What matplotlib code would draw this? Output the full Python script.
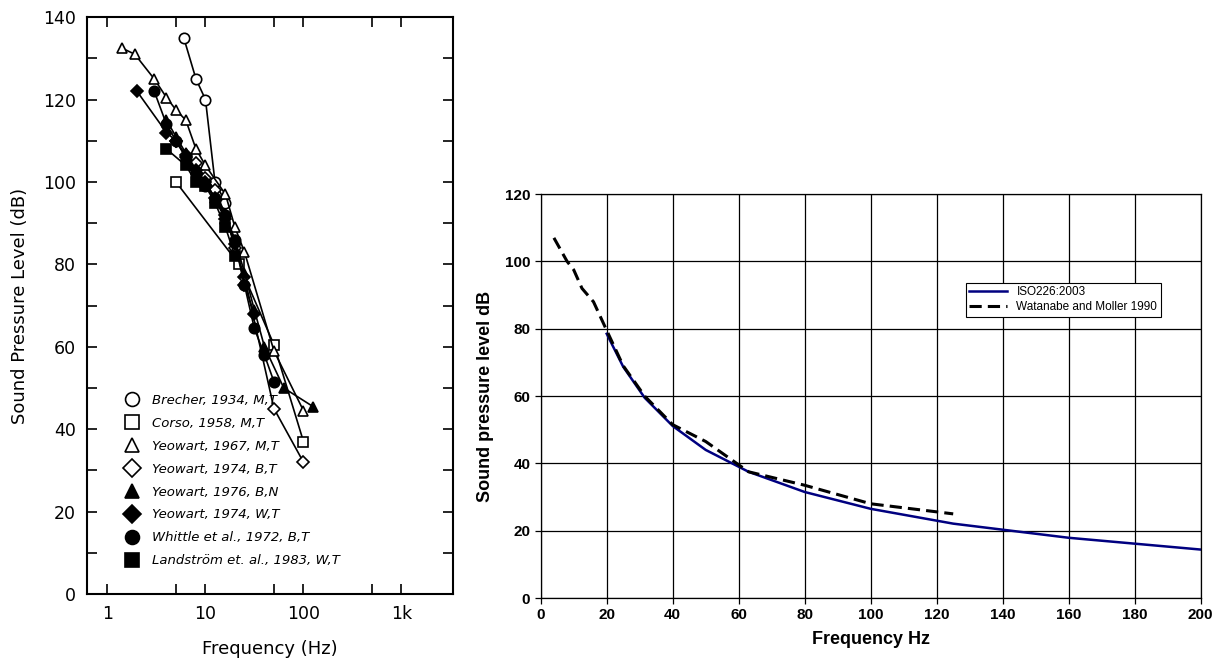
import numpy as np
import matplotlib
matplotlib.use("Agg")
import matplotlib.pyplot as plt
from matplotlib.lines import Line2D
from matplotlib.ticker import FixedLocator, NullFormatter

# --- left panel: published infrasound thresholds (Hz, dB) ---
brecher_f = [6, 8, 10, 12.5, 16]
brecher_db = [135, 125, 120, 100, 95]

corso_f = [5, 22, 50, 100]
corso_db = [100, 80, 60.5, 37]

yeo67_f = [1.4, 1.9, 3, 4, 5, 6.3, 8, 10, 16, 20, 25, 50, 100]
yeo67_db = [132.5, 131, 125, 120.5, 117.5, 115, 108, 104, 97, 89, 83, 59, 44.5]

yeo74b_f = [5, 6.3, 8, 10, 12.5, 16, 20, 25, 50, 100]
yeo74b_db = [110, 106.5, 104.5, 101, 98, 92, 84, 77, 45, 32]

yeo76_f = [4, 5, 6.3, 8, 10, 12.5, 16, 20, 25, 31.5, 40, 63, 125]
yeo76_db = [115, 111, 107, 103, 100, 96, 91, 86, 78, 69, 60, 50, 45.5]

yeo74w_f = [2, 4, 5, 6.3, 8, 10, 12.5, 16, 20, 25, 31.5]
yeo74w_db = [122, 112, 110, 106, 103, 100, 96, 91, 85, 75, 68]

whittle_f = [3, 4, 5, 6.3, 8, 10, 12.5, 16, 20, 25, 31.5, 40, 50]
whittle_db = [122, 114, 110, 106, 102, 99, 96, 92, 86, 75, 64.5, 58, 51.5]

landstrom_f = [4, 6.3, 8, 10, 12.5, 16, 20]
landstrom_db = [108, 104, 100, 99, 95, 89, 82]

# --- right panel: hearing threshold curves ---
iso_f = [20, 25, 31.5, 40, 50, 63, 80, 100, 125, 160, 200]
iso_db = [78.5, 68.7, 59.5, 51.1, 44.0, 37.5, 31.5, 26.5, 22.1, 17.9, 14.4]

wat_f = [4, 8, 10, 12.5, 16, 20, 25, 31.5, 40, 50, 63, 80, 100, 125]
wat_db = [107, 100, 97.5, 92, 88, 79.5, 69, 60, 51.5, 46.5, 37.5, 33.5, 28, 25]

series = [
    (brecher_f, brecher_db, 'o', 'white', 'Brecher, 1934, M,T'),
    (corso_f, corso_db, 's', 'white', 'Corso, 1958, M,T'),
    (yeo67_f, yeo67_db, '^', 'white', 'Yeowart, 1967, M,T'),
    (yeo74b_f, yeo74b_db, 'D', 'white', 'Yeowart, 1974, B,T'),
    (yeo76_f, yeo76_db, '^', 'black', 'Yeowart, 1976, B,N'),
    (yeo74w_f, yeo74w_db, 'D', 'black', 'Yeowart, 1974, W,T'),
    (whittle_f, whittle_db, 'o', 'black', 'Whittle et al., 1972, B,T'),
    (landstrom_f, landstrom_db, 's', 'black', 'Landström et. al., 1983, W,T'),
]

fig = plt.figure(figsize=(12.17, 6.6), dpi=100)

ax1 = fig.add_axes([0.0715, 0.100, 0.3007, 0.874])
for f, db, m, fc, lab in series:
    ms = 6.5 if m == 'D' else 7.5
    ax1.plot(f, db, color='black', lw=1.2, marker=m, ms=ms,
             markerfacecolor=fc, markeredgecolor='black', mew=1.2)

ax1.set_xscale('log')
ax1.set_xlim(0.618, 3356)
ax1.set_ylim(0, 140)
ax1.xaxis.set_major_locator(FixedLocator([1, 10, 100, 1000]))
ax1.xaxis.set_minor_locator(FixedLocator([5, 50, 500]))
ax1.xaxis.set_minor_formatter(NullFormatter())
ax1.set_xticklabels(['1', '10', '100', '1k'])
ax1.set_yticks(np.arange(0, 141, 20))
ax1.set_yticks(np.arange(10, 140, 20), minor=True)
ax1.tick_params(which='both', direction='in', top=True, right=True,
                length=7, width=1.2, labelsize=12.5, pad=8)
for s in ax1.spines.values():
    s.set_linewidth(1.5)
ax1.set_xlabel('Frequency (Hz)', fontsize=13, labelpad=12)
ax1.set_ylabel('Sound Pressure Level (dB)', fontsize=13, labelpad=10)

handles = [Line2D([], [], ls='none', marker=m, ms=(9 if m == 'D' else 10),
                  markerfacecolor=fc, markeredgecolor='black', mew=1.2)
           for _, _, m, fc, _ in series]
labels = [s[4] for s in series]
ax1.legend(handles, labels, loc='lower left', bbox_to_anchor=(0.07, 0.035),
           frameon=False, prop={'style': 'italic', 'size': 9.5},
           handletextpad=0.5, labelspacing=0.75, borderpad=0)

# right panel
ax2 = fig.add_axes([0.4443, 0.0939, 0.5423, 0.612])
ax2.plot(iso_f, iso_db, color='#000080', lw=1.8, label='ISO226:2003')
ax2.plot(wat_f, wat_db, color='black', lw=2.2, ls=(0, (4, 2)),
         label='Watanabe and Moller 1990')
ax2.set_xlim(0, 200)
ax2.set_ylim(0, 120)
ax2.set_xticks(np.arange(0, 201, 20))
ax2.set_yticks(np.arange(0, 121, 20))
ax2.grid(True, color='black', lw=0.9)
ax2.tick_params(direction='out', length=4, width=0.9, labelsize=11)
for lab in ax2.get_xticklabels() + ax2.get_yticklabels():
    lab.set_fontfamily('Liberation Sans')
    lab.set_fontweight('bold')
for s in ax2.spines.values():
    s.set_linewidth(0.9)
ax2.set_xlabel('Frequency Hz', fontsize=13, fontweight='bold',
               family='Liberation Sans', labelpad=6)
ax2.set_ylabel('Sound pressure level dB', fontsize=13, fontweight='bold',
               family='Liberation Sans', labelpad=8)
leg = ax2.legend(loc='upper left', bbox_to_anchor=(0.635, 0.795),
                 prop={'family': 'Liberation Sans', 'size': 8.5},
                 fancybox=False, framealpha=1, edgecolor='black',
                 handlelength=3.2, borderpad=0.3, labelspacing=0.25)
leg.get_frame().set_linewidth(0.8)

fig.savefig('out.png', dpi=100)
